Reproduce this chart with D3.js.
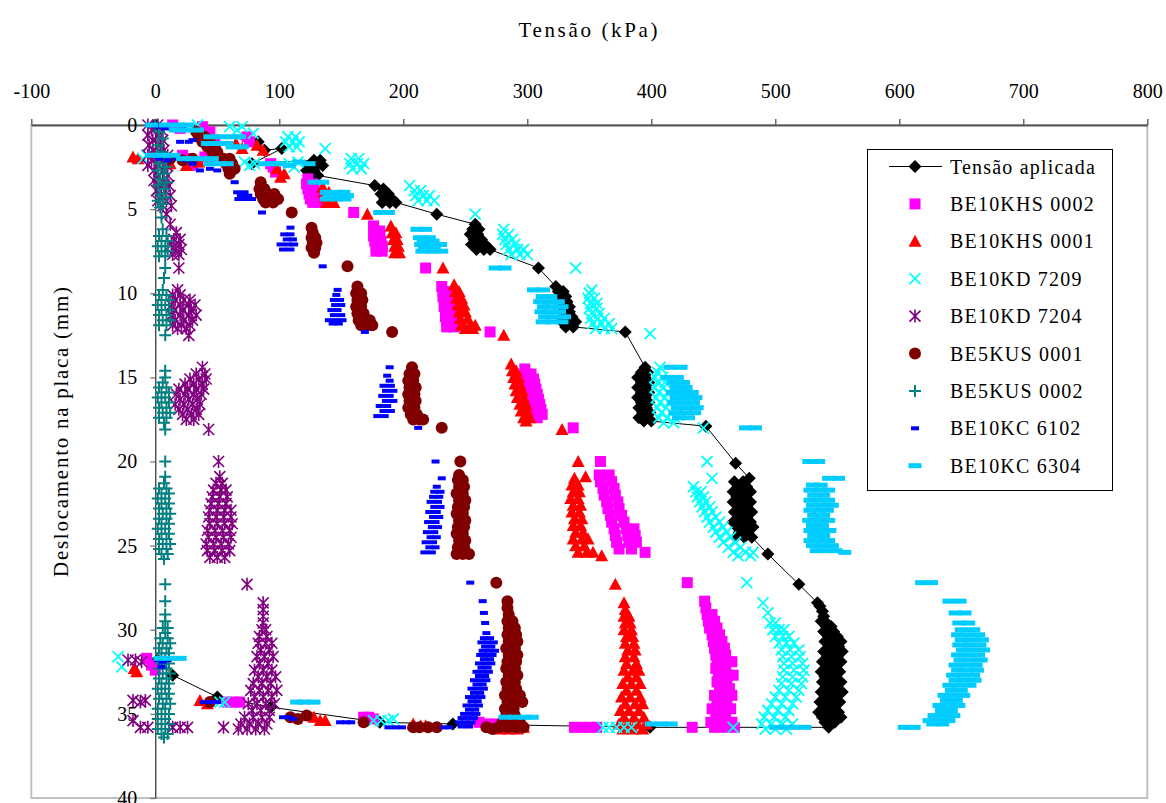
<!DOCTYPE html>
<html><head><meta charset="utf-8">
<script src="https://cdn.jsdelivr.net/npm/d3@7"></script>
<style>
body{margin:0;background:#fff}
svg{display:block}
</style>
</head><body>
<svg id="chart" width="1166" height="803" font-family="Liberation Serif"></svg>
<script>
// ---------- tick labels / titles ----------
const xTicks = [-100, 0, 100, 200, 300, 400, 500, 600, 700, 800];
const yTicks = [0, 5, 10, 15, 20, 25, 30, 35, 40];
const xTitle = "Tensão (kPa)";
const yTitle = "Deslocamento na placa (mm)";
const seriesNames = ["Tensão aplicada", "BE10KHS 0002", "BE10KHS 0001", "BE10KD 7209", "BE10KD 7204",
  "BE5KUS 0001", "BE5KUS 0002", "BE10KC 6102", "BE10KC 6304"];

// ---------- data: [tensão kPa, deslocamento mm] ----------
const tensaoAplicada = [[0,0],[83,1.0],[88,1.5],[102,1.4],[78,2.3],
  [128,2.1],[133,2.1],[124,2.4],[130,2.4],[135,2.4],[122,2.7],[128,2.7],[126,3.0],[131,3.0],
  [177,3.6],[184,3.8],[182,4.1],[188,4.1],[185,4.4],[191,4.4],[183,4.6],[189,4.6],[194,4.6],
  [227,5.3],[258,5.9],[256,6.2],[261,6.2],[254,6.5],[260,6.5],[257,6.8],[263,6.8],[255,7.1],[261,7.1],[266,7.1],[259,7.4],[265,7.4],[270,7.4],
  [309,8.5],[323,9.6],[325,9.9],[329,9.9],[326,10.2],[331,10.2],[327,10.5],[332,10.5],[328,10.8],[334,10.8],[329,11.1],[334,11.1],
  [330,11.4],[336,11.4],[328,11.7],[334,11.7],[339,11.7],[331,12.0],[337,12.0],
  [379,12.3],
  [395,14.4],[392,14.7],[397,14.7],[389,15.0],[395,15.0],[392,15.3],[398,15.3],[389,15.6],[395,15.6],[392,15.9],[398,15.9],
  [389,16.2],[395,16.2],[392,16.5],[398,16.5],[390,16.8],[396,16.8],[393,17.1],[399,17.1],[390,17.4],[396,17.4],[394,17.6],[400,17.6],
  [444,17.9],[468,20.1],[479,21.0],
  [467,21.2],[474,21.2],[470,21.5],[477,21.5],[466,21.8],[473,21.8],[480,21.8],[469,22.1],[476,22.1],[466,22.4],[473,22.4],[480,22.4],
  [470,22.7],[477,22.7],[467,23.0],[474,23.0],[481,23.0],[470,23.3],[477,23.3],[466,23.6],[473,23.6],[480,23.6],[469,23.9],[476,23.9],
  [482,23.9],[471,24.2],[478,24.2],[468,24.5],[475,24.5],[481,24.5],
  [494,25.5],[519,27.3],[534,28.4],
  [536,28.6],[538,28.9],[539,29.2],[540,29.5],[537,29.5],[541,29.8],[545,29.8],[539,30.1],[547,30.1],[543,30.4],[550,30.4],
  [540,30.7],[548,30.7],[553,30.7],[544,31.0],[551,31.0],[539,31.3],[547,31.3],[554,31.3],[542,31.6],[550,31.6],[538,31.9],
  [546,31.9],[553,31.9],[541,32.2],[549,32.2],[537,32.5],[545,32.5],[552,32.5],[540,32.8],[548,32.8],[538,33.1],[546,33.1],
  [553,33.1],[541,33.4],[549,33.4],[537,33.7],[545,33.7],[554,33.7],[540,34.0],[548,34.0],[536,34.3],[544,34.3],[552,34.3],
  [539,34.6],[547,34.6],[535,34.9],[543,34.9],[551,34.9],[538,35.2],[546,35.2],[553,35.2],[540,35.5],[548,35.5],[543,35.8],
  [399,35.8],[240,35.6],[181,35.5],[93,34.6],[50,34.0],[14,32.7],[2,31.8]];

const khs0002 = [[14,0.0],[20,0.2],[38,0.1],[44,0.4],[48,0.9],[42,0.7],[74,0.7],[76,1.0],
  [22,1.8],[28,2.0],[34,2.2],[40,1.9],[44,2.1],[30,2.4],[93,2.3],[97,2.8],[95,2.5],
  [123,3.2],[122,3.5],[127,3.5],[123,3.8],[128,3.8],[124,4.1],[129,4.1],[125,4.4],[131,4.4],[127,4.6],[133,4.6],[160,5.2],
  [176,6.0],[177,6.3],[181,6.3],[176,6.6],[181,6.6],[177,6.9],[182,6.9],[178,7.2],[183,7.2],[178,7.5],[183,7.5],
  [218,8.5],[231,9.6],[232,9.9],[236,9.9],[232,10.2],[237,10.2],[233,10.5],[238,10.5],[233,10.8],[238,10.8],[234,11.1],[239,11.1],
  [234,11.4],[239,11.4],[235,11.7],[240,11.7],[235,12.0],[241,12.0],[270,12.3],
  [298,14.5],[299,14.8],[303,14.8],[300,15.1],[305,15.1],[301,15.4],[306,15.4],[302,15.7],[307,15.7],[303,16.0],[308,16.0],
  [304,16.3],[309,16.3],[305,16.6],[310,16.6],[305,16.9],[311,16.9],[306,17.2],[312,17.2],[308,17.4],[337,18.0],
  [359,20.0],[358,20.8],[366,20.8],[359,21.2],[368,21.2],[361,21.6],[370,21.6],[362,22.0],[371,22.0],[364,22.4],[373,22.4],
  [365,22.8],[374,22.8],[367,23.2],[376,23.2],[368,23.6],[378,23.6],[370,24.0],[380,24.0],[386,24.0],[371,24.4],[381,24.4],
  [387,24.4],[372,24.8],[382,24.8],[388,24.8],[374,25.2],[384,25.2],[395,25.4],
  [429,27.2],[443,28.3],[444,28.7],[445,29.1],[449,29.1],[446,29.5],[451,29.5],[447,29.9],[453,29.9],[449,30.3],[455,30.3],
  [450,30.7],[457,30.7],[451,31.1],[459,31.1],[452,31.5],[460,31.5],[453,31.9],[461,31.9],[465,31.9],[452,32.3],[460,32.3],
  [454,32.7],[462,32.7],[466,32.7],[453,33.1],[461,33.1],[455,33.5],[463,33.5],[451,33.9],[459,33.9],[465,33.9],[453,34.3],
  [461,34.3],[449,34.7],[457,34.7],[464,34.7],[452,35.1],[460,35.1],[448,35.5],[456,35.5],[465,35.5],[451,35.8],[459,35.8],
  [467,35.8],[433,35.8],
  [338,35.8],[344,35.8],[350,35.8],[356,35.8],[168,35.2],[172,35.2],[176,35.3],[58,34.3],[63,34.3],[68,34.3],
  [261,35.5],[268,35.6],[275,35.6],[-7,31.7],[-3,32.1],[0,32.4]];

const khs0001 = [[-18,1.9],[-14,2.0],[12,2.3],[25,2.4],[35,2.2],[42,0.8],[47,1.1],[65,1.1],[70,1.4],[82,1.2],[87,1.5],
  [98,2.6],[104,2.9],[101,3.1],
  [135,3.7],[136,4.0],[140,4.0],[137,4.3],[142,4.3],[138,4.6],[144,4.6],[171,5.3],
  [190,6.0],[191,6.4],[194,6.4],[192,6.8],[195,6.8],[193,7.2],[196,7.2],[193,7.6],[197,7.6],
  [232,8.5],[241,9.5],[242,9.9],[245,9.9],[243,10.3],[247,10.3],[244,10.7],[249,10.7],[245,11.1],[250,11.1],[246,11.5],
  [252,11.5],[247,11.9],[254,11.9],[258,11.9],[250,12.1],[256,12.1],[281,12.5],
  [287,14.2],[288,14.6],[291,14.6],[289,15.0],[293,15.0],[290,15.4],[294,15.4],[291,15.8],[296,15.8],[292,16.2],[297,16.2],
  [294,16.6],[299,16.6],[295,17.0],[300,17.0],[297,17.4],[302,17.4],[299,17.6],[328,18.1],
  [341,20.0],[347,20.9],[338,21.0],[336,21.4],[341,21.4],[337,21.8],[342,21.8],[335,22.2],[341,22.2],[337,22.6],[343,22.6],
  [336,23.0],[342,23.0],[338,23.4],[344,23.4],[337,23.8],[343,23.8],[339,24.2],[345,24.2],[337,24.6],[344,24.6],[349,24.6],
  [339,25.0],[346,25.0],[341,25.4],[348,25.4],[353,25.4],[360,25.6],
  [371,27.3],[378,28.4],[379,28.8],[378,29.2],[382,29.2],[379,29.6],[383,29.6],[378,30.0],[384,30.0],[380,30.4],[385,30.4],
  [379,30.8],[386,30.8],[381,31.2],[387,31.2],[379,31.6],[386,31.6],[380,32.0],[388,32.0],[378,32.4],[385,32.4],[390,32.4],
  [381,32.8],[388,32.8],[377,33.2],[384,33.2],[391,33.2],[380,33.6],[388,33.6],[376,34.0],[383,34.0],[391,34.0],[379,34.4],
  [387,34.4],[393,34.4],[375,34.8],[382,34.8],[390,34.8],[378,35.2],[386,35.2],[394,35.2],[374,35.6],[381,35.6],[389,35.6],
  [396,35.6],[377,35.9],[385,35.9],[393,35.9],
  [278,35.9],[285,35.9],[292,35.9],[297,35.8],[128,35.2],[133,35.4],[137,35.4],[208,35.6],[214,35.7],[218,35.7],
  [36,34.2],[42,34.4],[-15,32.5],[-17,32.3]];

const kd7209 = [[34,0.0],[60,0.1],[66,0.3],[70,0.1],[79,0.5],[107,0.7],[113,0.7],[105,1.0],[111,1.0],[116,1.0],[108,1.3],
  [114,1.3],[137,1.4],
  [158,2.0],[164,2.0],[157,2.3],[163,2.3],[168,2.3],[159,2.6],[166,2.6],
  [-7,1.8],[-10,2.0],[72,2.2],[76,2.4],[80,2.3],[108,2.3],[112,2.5],[115,2.2],
  [205,3.6],[209,3.9],[214,3.9],[210,4.2],[216,4.2],[221,4.2],[212,4.5],[219,4.5],[225,4.5],[258,5.3],
  [281,6.2],[280,6.5],[285,6.5],[282,6.8],[288,6.8],[283,7.1],[290,7.1],[285,7.4],[292,7.4],[297,7.4],[287,7.7],[294,7.7],[300,7.7],
  [339,8.5],[352,9.8],[350,10.0],[349,10.3],[354,10.3],[351,10.6],[356,10.6],[350,10.9],[356,10.9],[352,11.2],[358,11.2],
  [351,11.5],[357,11.5],[362,11.5],[353,11.8],[360,11.8],[366,11.8],[355,12.1],[362,12.1],[368,12.1],[399,12.4],
  [407,14.4],[405,14.7],[403,15.0],[409,15.0],[405,15.3],[411,15.3],[403,15.6],[410,15.6],[406,15.9],[413,15.9],[404,16.2],
  [411,16.2],[407,16.5],[414,16.5],[405,16.8],[412,16.8],[408,17.1],[416,17.1],[406,17.4],[413,17.4],[419,17.4],[410,17.7],
  [418,17.7],[442,18.0],
  [445,20.0],[449,21.0],[434,21.5],[436,21.8],[440,21.8],[437,22.1],[442,22.1],[439,22.4],[444,22.4],[441,22.7],[447,22.7],
  [443,23.0],[449,23.0],[445,23.3],[452,23.3],[447,23.6],[455,23.6],[450,23.9],[458,23.9],[452,24.2],[461,24.2],[455,24.5],
  [464,24.5],[458,24.8],[468,24.8],[462,25.1],[472,25.1],[466,25.4],[476,25.4],[482,25.4],[470,25.6],[480,25.6],
  [477,27.2],[490,28.4],[494,29.0],[496,29.6],[500,29.6],[498,30.0],[503,30.0],[507,30.0],[500,30.4],[506,30.4],[511,30.4],
  [503,30.8],[509,30.8],[515,30.8],[505,31.2],[512,31.2],[519,31.2],[506,31.6],[513,31.6],[520,31.6],[507,32.0],[514,32.0],
  [522,32.0],[507,32.4],[515,32.4],[523,32.4],[506,32.8],[514,32.8],[522,32.8],[505,33.2],[513,33.2],[521,33.2],[503,33.6],
  [511,33.6],[519,33.6],[500,34.0],[508,34.0],[517,34.0],[497,34.4],[505,34.4],[514,34.4],[494,34.8],[502,34.8],[511,34.8],
  [491,35.2],[499,35.2],[508,35.2],[489,35.6],[497,35.6],[506,35.6],[514,35.6],[492,35.9],[500,35.9],[509,35.9],
  [466,35.8],[361,35.8],[366,35.8],[372,35.8],[378,35.8],[384,35.8],[176,35.4],[182,35.4],[188,35.4],[192,35.3],
  [52,34.3],[56,34.3],[-30,31.6],[-27,32.2]];

const kd7204 = [[-6,0.0],[2,0.0],[-3,0.3],[5,0.3],[-6,0.6],[3,0.6],[-2,0.9],[6,0.9],[-5,1.2],[4,1.2],[-2,1.5],[7,1.5],
  [-6,1.8],[3,1.8],[10,1.8],[-3,2.1],[6,2.1],[-6,2.4],[2,2.4],[9,2.4],[-1,2.7],[7,2.7],[2,3.0],[10,3.0],[-1,3.3],[6,3.3],
  [4,3.6],[11,3.6],[1,3.9],[8,3.9],[5,4.2],[12,4.2],[2,4.5],[9,4.5],[6,4.8],[13,4.8],
  [9,5.3],[12,5.9],[17,6.4],[15,6.8],[20,6.8],[13,7.1],[19,7.1],[16,7.4],[21,7.4],[14,7.7],[19,7.7],
  [19,8.5],[18,9.8],[14,10.1],[20,10.1],[16,10.4],[23,10.4],[28,10.4],[13,10.7],[20,10.7],[27,10.7],[32,10.7],[15,11.0],
  [22,11.0],[29,11.0],[13,11.3],[20,11.3],[27,11.3],[33,11.3],[16,11.6],[23,11.6],[30,11.6],[14,11.9],[21,11.9],[28,11.9],
  [18,12.1],[25,12.1],[27,12.5],
  [38,14.4],[33,14.8],[40,14.8],[28,15.1],[35,15.1],[41,15.1],[24,15.4],[31,15.4],[38,15.4],[19,15.7],[26,15.7],[33,15.7],
  [39,15.7],[17,16.0],[24,16.0],[31,16.0],[37,16.0],[20,16.3],[27,16.3],[34,16.3],[16,16.6],[23,16.6],[30,16.6],[36,16.6],
  [19,16.9],[26,16.9],[33,16.9],[22,17.2],[29,17.2],[35,17.2],[25,17.5],[31,17.5],[43,18.1],
  [51,20.0],[52,20.9],[49,21.3],[54,21.3],[47,21.7],[53,21.7],[57,21.7],[46,22.1],[52,22.1],[58,22.1],[45,22.5],[51,22.5],
  [57,22.5],[44,22.9],[50,22.9],[56,22.9],[61,22.9],[43,23.3],[49,23.3],[55,23.3],[61,23.3],[44,23.7],[50,23.7],[56,23.7],
  [62,23.7],[42,24.1],[48,24.1],[54,24.1],[60,24.1],[43,24.5],[49,24.5],[55,24.5],[61,24.5],[41,24.9],[47,24.9],[53,24.9],
  [59,24.9],[42,25.3],[48,25.3],[54,25.3],[60,25.3],[44,25.7],[50,25.7],[56,25.7],
  [74,27.3],[87,28.4],[87,28.8],[87,29.2],[87,29.6],[86,30.0],[89,30.0],[84,30.4],[90,30.4],[83,30.8],[89,30.8],[94,30.8],
  [85,31.2],[92,31.2],[82,31.6],[88,31.6],[95,31.6],[84,32.0],[91,32.0],[80,32.4],[87,32.4],[94,32.4],[83,32.8],[90,32.8],
  [97,32.8],[79,33.2],[86,33.2],[93,33.2],[77,33.6],[84,33.6],[91,33.6],[98,33.6],[80,34.0],[87,34.0],[94,34.0],[75,34.4],
  [82,34.4],[89,34.4],[96,34.4],[78,34.8],[85,34.8],[92,34.8],[72,35.2],[79,35.2],[86,35.2],[92,35.2],[69,35.6],[76,35.6],
  [83,35.6],[90,35.6],[67,35.9],[74,35.9],[81,35.9],[88,35.9],
  [55,35.8],[14,35.8],[20,35.8],[26,35.8],[-18,34.2],[-12,34.3],[-8,34.2],[-18,35.4],[-12,35.8],[-6,35.8],
  [-22,31.8],[-16,31.8],[-11,31.9]];

const kus0001 = [[33,0.4],[35,0.7],[40,0.7],[38,1.0],[44,1.0],[42,1.3],[48,1.3],[46,1.6],[50,1.6],[55,2.0],[60,2.0],
  [57,2.3],[62,2.3],[59,2.6],[64,2.6],[60,2.9],[30,2.0],[22,2.1],[12,2.0],
  [85,3.4],[84,3.8],[88,3.8],[85,4.1],[91,4.1],[96,4.1],[87,4.4],[93,4.4],[99,4.4],[89,4.6],[95,4.6],[110,5.2],
  [126,6.1],[127,6.4],[126,6.7],[129,6.7],[127,7.0],[130,7.0],[126,7.3],[129,7.3],[128,7.6],
  [155,8.4],[163,9.6],[162,10.0],[166,10.0],[163,10.4],[167,10.4],[162,10.8],[166,10.8],[163,11.2],[168,11.2],[164,11.6],
  [169,11.6],[173,11.6],[166,11.9],[171,11.9],[175,11.9],[191,12.3],
  [207,14.4],[205,14.8],[209,14.8],[204,15.2],[208,15.2],[205,15.6],[210,15.6],[204,16.0],[209,16.0],[205,16.4],[210,16.4],
  [204,16.8],[209,16.8],[206,17.2],[211,17.2],[208,17.5],[213,17.5],[216,17.5],[231,18.0],
  [246,20.0],[245,20.8],[244,21.1],[248,21.1],[245,21.5],[249,21.5],[243,21.9],[248,21.9],[245,22.3],[250,22.3],[244,22.7],
  [249,22.7],[243,23.1],[248,23.1],[245,23.5],[250,23.5],[244,23.9],[249,23.9],[243,24.3],[248,24.3],[245,24.7],[250,24.7],
  [244,25.1],[249,25.1],[243,25.5],[248,25.5],[253,25.5],
  [275,27.2],[284,28.3],[284,28.7],[285,29.1],[284,29.5],[288,29.5],[285,29.9],[290,29.9],[284,30.3],[291,30.3],[285,30.7],
  [292,30.7],[283,31.1],[290,31.1],[285,31.5],[292,31.5],[284,31.9],[291,31.9],[283,32.3],[290,32.3],[285,32.7],[292,32.7],
  [283,33.1],[290,33.1],[284,33.5],[291,33.5],[282,33.9],[289,33.9],[294,33.9],[284,34.3],[291,34.3],[296,34.3],[282,34.7],
  [289,34.7],[283,35.1],[290,35.1],[280,35.5],[287,35.5],[294,35.5],[277,35.8],[284,35.8],[291,35.8],[297,35.8],
  [267,35.8],[272,35.9],[168,35.5],[208,35.8],[213,35.8],[220,35.8],[227,35.8],[109,35.2],[115,35.3],[122,35.1],[44,34.3]];

const kus0002 = [[0,0.0],[3,0.4],[6,0.8],[2,1.2],[5,1.6],[1,1.9],[8,2.0],[4,2.3],[9,2.5],[2,2.7],[7,2.9],[4,3.2],[9,3.4],
  [2,3.6],[7,3.8],[4,4.1],[9,4.3],[2,4.5],[6,4.7],[4,4.9],
  [5,5.5],[6,6.2],[3,6.6],[9,6.6],[5,6.9],[10,6.9],[2,7.2],[8,7.2],[5,7.5],[10,7.5],[3,7.8],[8,7.8],
  [8,8.5],[7,9.1],[6,9.8],[3,10.1],[9,10.1],[5,10.4],[11,10.4],[2,10.7],[8,10.7],[5,11.0],[11,11.0],[3,11.3],[9,11.3],
  [6,11.6],[12,11.6],[3,11.9],[9,11.9],[8,12.5],
  [8,14.6],[8,15.0],[6,15.3],[3,15.6],[9,15.6],[5,15.9],[11,15.9],[2,16.2],[8,16.2],[5,16.5],[11,16.5],[3,16.8],[9,16.8],
  [6,17.1],[12,17.1],[3,17.4],[9,17.4],[7,17.7],[8,18.1],
  [8,20.0],[8,20.9],[7,21.3],[3,21.6],[9,21.6],[5,21.9],[11,21.9],[2,22.2],[8,22.2],[5,22.5],[11,22.5],[3,22.8],[9,22.8],
  [6,23.1],[12,23.1],[3,23.4],[9,23.4],[5,23.7],[11,23.7],[2,24.0],[8,24.0],[5,24.3],[11,24.3],[3,24.6],[9,24.6],[6,24.9],
  [12,24.9],[3,25.2],[9,25.2],[5,25.5],[10,25.5],[7,25.8],
  [8,27.3],[8,28.3],[8,29.1],[8,29.5],[6,29.9],[10,29.9],[8,30.2],[4,30.5],[10,30.5],[6,30.8],[12,30.8],[3,31.1],[9,31.1],
  [5,31.4],[11,31.4],[2,31.7],[8,31.7],[5,32.0],[11,32.0],[3,32.3],[9,32.3],[6,32.6],[12,32.6],[3,32.9],[9,32.9],[5,33.2],
  [11,33.2],[2,33.5],[8,33.5],[5,33.8],[11,33.8],[3,34.1],[9,34.1],[6,34.4],[12,34.4],[2,34.7],[8,34.7],[5,35.0],[11,35.0],
  [2,35.3],[8,35.3],[5,35.6],[11,35.6],[2,35.9],[8,35.9],[5,36.2],[10,36.2],[7,36.4]];

const kc6102 = [[2,0.1],[8,0.2],[15,0.3],[22,0.2],[20,1.0],[27,1.0],[30,0.9],
  [3,2.0],[10,2.1],[18,2.0],[25,2.1],[36,2.7],[44,2.6],[50,2.7],[30,2.3],
  [64,3.4],[66,4.0],[72,4.0],[69,4.2],[75,4.2],[67,4.4],[73,4.4],[78,4.4],[86,5.2],
  [109,6.1],[104,6.5],[109,6.5],[106,6.8],[111,6.8],[101,7.1],[107,7.1],[112,7.1],[103,7.4],[109,7.4],
  [135,8.4],[147,9.8],[146,10.1],[144,10.4],[149,10.4],[145,10.7],[150,10.7],[142,11.0],[147,11.0],[144,11.3],[150,11.3],
  [140,11.6],[146,11.6],[151,11.6],[143,11.8],[148,11.8],[169,12.3],
  [189,14.4],[187,14.9],[189,15.2],[184,15.5],[190,15.5],[186,15.8],[192,15.8],[183,16.1],[189,16.1],[186,16.4],[192,16.4],
  [181,16.7],[187,16.7],[184,17.0],[190,17.0],[179,17.3],[185,17.3],[212,18.0],
  [226,20.0],[231,21.0],[227,21.5],[225,21.8],[230,21.8],[224,22.1],[229,22.1],[222,22.4],[228,22.4],[225,22.7],[230,22.7],
  [221,23.0],[227,23.0],[224,23.3],[229,23.3],[220,23.6],[226,23.6],[223,23.9],[228,23.9],[219,24.2],[225,24.2],[222,24.5],
  [227,24.5],[218,24.8],[224,24.8],[221,25.1],[226,25.1],[217,25.4],[223,25.4],
  [254,27.2],[264,28.3],[265,29.0],[266,29.6],[267,30.2],[265,30.5],[270,30.5],[263,30.75],[268,30.75],[273,30.75],[266,31.0],
  [271,31.0],[264,31.25],[269,31.25],[274,31.25],[262,31.5],[267,31.5],[272,31.5],[265,31.75],[270,31.75],[261,32.0],
  [266,32.0],[271,32.0],[263,32.25],[268,32.25],[259,32.5],[264,32.5],[269,32.5],[261,32.75],[266,32.75],[257,33.0],
  [262,33.0],[267,33.0],[259,33.25],[264,33.25],[255,33.5],[260,33.5],[265,33.5],[257,33.75],[262,33.75],[253,34.0],
  [258,34.0],[263,34.0],[255,34.25],[260,34.25],[251,34.5],[256,34.5],[261,34.5],[253,34.75],[258,34.75],[249,35.0],
  [254,35.0],[259,35.0],[247,35.25],[252,35.25],[257,35.25],[245,35.5],[250,35.5],[255,35.5],[247,35.75],[253,35.75],
  [103,35.2],[107,35.2],[111,35.3],[149,35.5],[154,35.5],[158,35.5],[188,35.8],[194,35.8],[199,35.8],[233,35.8],[237,35.8],
  [39,34.3],[45,34.3],[50,34.3],[2,31.8],[6,31.9],[10,31.8],[5,32.2]];

const kc6304 = [[-3,0.0],[8,0.0],[18,0.0],[26,0.0],[16,0.3],[24,0.3],[34,0.3],[44,0.7],[52,0.7],[62,0.7],[68,0.7],
  [42,1.1],[50,1.1],[58,1.1],[62,1.3],[70,1.3],
  [-3,1.8],[6,1.8],[15,1.8],[22,2.0],[30,2.0],[38,2.0],[46,2.0],[44,2.3],[52,2.3],[58,2.3],[88,2.3],[96,2.3],
  [100,2.3],[108,2.4],[116,2.2],[124,2.3],
  [128,3.4],[135,3.4],[138,4.0],[145,4.0],[152,4.0],[140,4.2],[148,4.2],[155,4.2],[138,4.4],[146,4.4],[153,4.4],[181,5.2],[188,5.2],
  [211,6.2],[218,6.2],[213,6.7],[221,6.7],[216,6.9],[224,6.9],[214,7.1],[222,7.1],[230,7.1],[217,7.3],[225,7.3],[215,7.5],
  [223,7.5],[231,7.5],
  [274,8.5],[282,8.5],[305,9.8],[313,9.8],[312,10.2],[319,10.2],[310,10.5],[317,10.5],[325,10.5],[313,10.8],[320,10.8],
  [328,10.8],[311,11.1],[318,11.1],[326,11.1],[314,11.4],[322,11.4],[330,11.4],[312,11.7],[320,11.7],[328,11.7],
  [415,14.4],[424,14.4],[413,15.0],[421,15.0],[418,15.3],[426,15.3],[420,15.6],[428,15.6],[417,15.9],[425,15.9],[433,15.9],
  [420,16.2],[428,16.2],[436,16.2],[418,16.5],[426,16.5],[434,16.5],[421,16.8],[429,16.8],[437,16.8],[419,17.1],[427,17.1],
  [435,17.1],[422,17.4],[430,17.4],[476,18.0],[484,18.0],
  [527,20.0],[535,20.0],[543,21.0],[551,21.0],[530,21.4],[537,21.4],[528,21.7],[536,21.7],[543,21.7],[531,22.0],[539,22.0],
  [528,22.3],[536,22.3],[543,22.3],[530,22.6],[538,22.6],[546,22.6],[528,22.9],[535,22.9],[542,22.9],[531,23.2],[539,23.2],
  [527,23.5],[535,23.5],[543,23.5],[530,23.8],[538,23.8],[528,24.1],[536,24.1],[544,24.1],[531,24.4],[539,24.4],[528,24.7],
  [535,24.7],[543,24.7],[530,25.0],[538,25.0],[546,25.0],[533,25.3],[541,25.3],[549,25.3],[556,25.4],
  [618,27.2],[626,27.2],[640,28.3],[649,28.3],[645,29.0],[653,29.0],[648,29.6],[656,29.6],[650,30.0],[660,30.0],[647,30.3],
  [655,30.3],[664,30.3],[650,30.6],[658,30.6],[667,30.6],[648,30.9],[656,30.9],[665,30.9],[651,31.2],[659,31.2],[668,31.2],
  [647,31.5],[655,31.5],[664,31.5],[649,31.8],[657,31.8],[666,31.8],[645,32.1],[653,32.1],[662,32.1],[647,32.4],[655,32.4],
  [663,32.4],[643,32.7],[651,32.7],[660,32.7],[645,33.0],[653,33.0],[661,33.0],[640,33.3],[648,33.3],[657,33.3],[642,33.6],
  [650,33.6],[636,33.9],[644,33.9],[652,33.9],[638,34.2],[646,34.2],[632,34.5],[640,34.5],[648,34.5],[634,34.8],[642,34.8],
  [628,35.1],[636,35.1],[644,35.1],[624,35.4],[632,35.4],[640,35.4],[627,35.6],[635,35.6],[604,35.8],[612,35.8],
  [500,35.8],[508,35.8],[516,35.8],[524,35.8],[400,35.6],[408,35.6],[416,35.6],[282,35.2],[290,35.2],[298,35.2],[304,35.2],
  [114,34.3],[120,34.3],[128,34.3],[4,31.7],[12,31.7],[20,31.7]];

// ---------- layout ----------
const svg = d3.select("#chart");
const x = d3.scaleLinear().domain([-100, 800]).range([31.3, 1147.3]);
const y = d3.scaleLinear().domain([0, 40]).range([125, 798]);
const FONT = "Liberation Serif";

// plot area border
svg.append("rect").attr("x", x(-100)).attr("y", y(0))
  .attr("width", x(800) - x(-100)).attr("height", y(40) - y(0))
  .attr("fill", "none").attr("stroke", "#c0c0c0").attr("stroke-width", 2);

// top x axis
const gx = svg.append("g").attr("transform", `translate(0,${y(0)})`)
  .call(d3.axisTop(x).tickValues(xTicks).tickSize(6).tickSizeOuter(0).tickPadding(21).tickFormat(d => String(d)));
gx.attr("font-family", FONT).attr("font-size", 20);
gx.select(".domain").attr("stroke", "#555").attr("stroke-width", 2);
gx.selectAll(".tick line").attr("stroke", "#555").attr("stroke-width", 1.3);
gx.selectAll(".tick text").attr("font-family", FONT).attr("font-size", 20).attr("fill", "#000");

// left y axis at x = 0
const gy = svg.append("g").attr("transform", `translate(${x(0)},0)`)
  .call(d3.axisLeft(y).tickValues(yTicks).tickSize(5).tickSizeOuter(0).tickPadding(13).tickFormat(d => String(d)));
gy.attr("font-family", FONT).attr("font-size", 20);
gy.select(".domain").attr("stroke", "#000").attr("stroke-width", 1);
gy.selectAll(".tick line").attr("stroke", "#777").attr("stroke-width", 1.3);
gy.selectAll(".tick text").attr("font-family", FONT).attr("font-size", 20).attr("fill", "#000");

// titles
svg.append("text").attr("x", 588).attr("y", 37).attr("text-anchor", "middle").attr("font-family", FONT)
  .attr("font-size", 21).attr("textLength", 139).attr("lengthAdjust", "spacing").text(xTitle);
svg.append("text").attr("transform", "translate(68,432) rotate(-90)").attr("text-anchor", "middle").attr("font-family", FONT)
  .attr("font-size", 21).attr("textLength", 290).attr("lengthAdjust", "spacing").text(yTitle);

// ---------- marker shapes ----------
const shapes = {
  diamond: {d: "M0,-6.5L6.5,0L0,6.5L-6.5,0Z", fill: "#000", stroke: "none", sw: 0},
  square: {d: "M-5.5,-5.5h11v11h-11Z", fill: "#ff00ff", stroke: "none", sw: 0},
  triangle: {d: "M0,-6.5L6.5,5.5L-6.5,5.5Z", fill: "#ff0000", stroke: "none", sw: 0},
  cross: {d: "M-5.5,-5.5L5.5,5.5M-5.5,5.5L5.5,-5.5", fill: "none", stroke: "#00ffff", sw: 1.8},
  star: {d: "M-5.5,-5.5L5.5,5.5M-5.5,5.5L5.5,-5.5M0,-6.5V6.5", fill: "none", stroke: "#800080", sw: 1.6},
  circle: {d: d3.symbol(d3.symbolCircle, Math.PI * 36)(), fill: "#800000", stroke: "none", sw: 0},
  plus: {d: "M-6,0H6M0,-6V6", fill: "none", stroke: "#008080", sw: 2},
  dashS: {d: "M-4,-2h8v4h-8Z", fill: "#0000ff", stroke: "none", sw: 0},
  dashL: {d: "M-6.5,-2.5h13v5h-13Z", fill: "#00ccff", stroke: "none", sw: 0}
};

const series = [
  {data: tensaoAplicada, shape: "diamond", line: true},
  {data: khs0002, shape: "square"},
  {data: khs0001, shape: "triangle"},
  {data: kd7209, shape: "cross"},
  {data: kd7204, shape: "star"},
  {data: kus0001, shape: "circle"},
  {data: kus0002, shape: "plus"},
  {data: kc6102, shape: "dashS"},
  {data: kc6304, shape: "dashL"}
];

const lineGen = d3.line().x(d => x(d[0])).y(d => y(d[1]));
series.forEach(s => {
  const g = svg.append("g");
  if (s.line) {
    g.append("path").attr("d", lineGen(s.data)).attr("fill", "none").attr("stroke", "#000").attr("stroke-width", 1);
  }
  const sh = shapes[s.shape];
  g.selectAll("path.m").data(s.data).join("path").attr("class", "m")
    .attr("transform", d => `translate(${x(d[0])},${y(d[1])})`)
    .attr("d", sh.d).attr("fill", sh.fill).attr("stroke", sh.stroke).attr("stroke-width", sh.sw);
});

// ---------- legend ----------
const lg = svg.append("g");
lg.append("rect").attr("x", 867.5).attr("y", 149.5).attr("width", 245).attr("height", 341)
  .attr("fill", "#fff").attr("stroke", "#000").attr("stroke-width", 1);
series.forEach((s, i) => {
  const cy = 166.5 + i * 37.4;
  const sh = shapes[s.shape];
  if (s.line) {
    lg.append("line").attr("x1", 889).attr("x2", 942).attr("y1", cy).attr("y2", cy)
      .attr("stroke", "#000").attr("stroke-width", 1);
  }
  lg.append("path").attr("transform", `translate(915,${cy})`).attr("d", sh.d)
    .attr("fill", sh.fill).attr("stroke", sh.stroke).attr("stroke-width", sh.sw);
  lg.append("text").attr("x", 950).attr("y", cy + 7).attr("font-family", FONT).attr("font-size", 20)
    .attr("letter-spacing", 1.2).text(seriesNames[i]);
});
</script>
</body></html>
